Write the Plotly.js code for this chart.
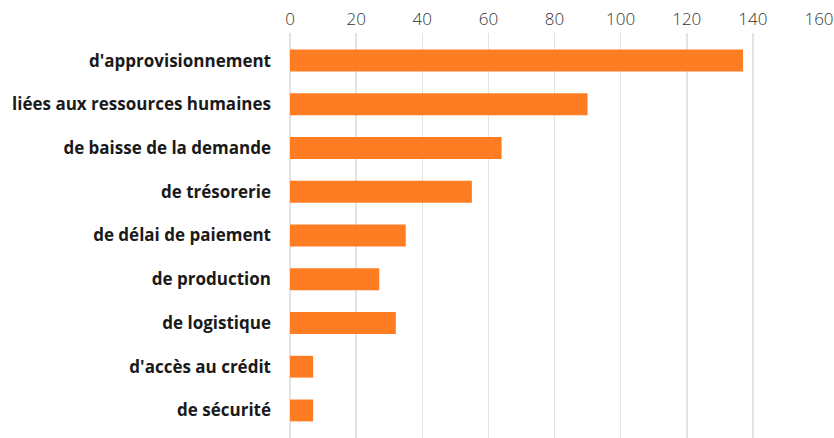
<!DOCTYPE html>
<html>
<head>
<meta charset="utf-8">
<script src="https://cdn.plot.ly/plotly-3.0.1.min.js"></script>
<style>html,body{margin:0;padding:0;background:#fff;}#chart{width:834px;height:438px;}</style>
</head>
<body>
<div id="chart"></div>
<script>
const categories = [
  "d'approvisionnement",
  "liées aux ressources humaines",
  "de baisse de la demande",
  "de trésorerie",
  "de délai de paiement",
  "de production",
  "de logistique",
  "d'accès au crédit",
  "de sécurité"
];
const values = [137, 90, 64, 55, 35, 27, 32, 7, 7];
const tickValues = [0, 20, 40, 60, 80, 100, 120, 140, 160];

const trace = {
  type: 'bar',
  orientation: 'h',
  y: categories,
  x: values,
  width: 0.5,
  marker: {color: '#FF7D22'},
  hoverinfo: 'x+y'
};

const layout = {
  width: 834,
  height: 438,
  margin: {l: 290, r: 15, t: 33, b: 0, pad: 0},
  paper_bgcolor: '#ffffff',
  plot_bgcolor: '#ffffff',
  showlegend: false,
  bargap: 0.5,
  xaxis: {
    side: 'top',
    range: [0, 160],
    tickvals: tickValues,
    ticktext: tickValues.map(String),
    showgrid: true,
    gridcolor: '#e3e3e3',
    gridwidth: 1.5,
    zeroline: true,
    zerolinecolor: '#e3e3e3',
    zerolinewidth: 1.5,
    showline: false,
    ticks: '',
    ticklabelstandoff: 4,
    tickfont: {family: 'Open Sans, sans-serif', size: 17, color: '#333333', weight: 300}
  },
  yaxis: {
    type: 'category',
    range: [8.63, -0.63],
    showgrid: false,
    zeroline: false,
    showline: false,
    ticks: '',
    ticklabelstandoff: 18,
    tickfont: {family: 'Open Sans, sans-serif', size: 17, color: '#1a1a1a', weight: 'bold'}
  }
};

Plotly.newPlot('chart', [trace], layout, {displayModeBar: false, staticPlot: true});
</script>
</body>
</html>
